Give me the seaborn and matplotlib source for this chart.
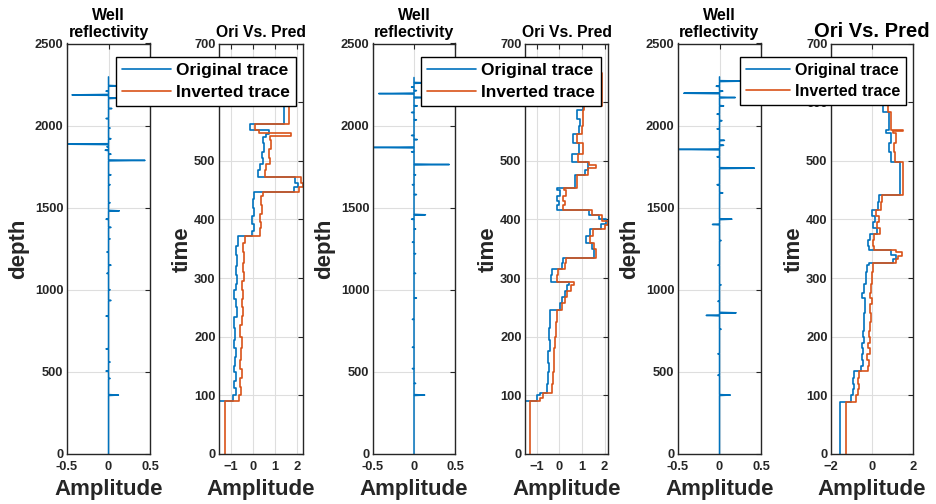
import matplotlib
matplotlib.use("Agg")
import matplotlib.pyplot as plt
import seaborn as sns
import pandas as pd

# ---------------- data ----------------
# Well reflectivity spikes (depth, amplitude) for the three wells
well1_depth = [2242, 2210, 2187, 2167, 2104, 2043, 1985, 1920, 1887, 1871, 1850, 1826, 1788, 1700, 1640,
               1530, 1481, 1430, 1380, 1310, 1230, 1150, 1100, 1000, 935, 840, 640, 560, 505, 460, 359]
well1_amp = [0.12, -0.03, -0.44, 0.11, 0.04, -0.03, 0.02, 0.03, -0.55, -0.02, -0.04, 0.03, 0.44, 0.03, 0.02,
             0.02, 0.13, -0.03, 0.03, 0.02, -0.02, 0.03, -0.02, 0.02, 0.03, -0.03, -0.03, 0.02, -0.03, 0.02, 0.12]
well2_depth = [2260, 2235, 2213, 2195, 2171, 2120, 2080, 2035, 1940, 1915, 1867, 1840, 1763, 1700, 1640,
               1580, 1457, 1430, 1370, 1290, 1220, 1100, 950, 820, 650, 520, 430, 359]
well2_amp = [0.20, -0.03, 0.03, -0.43, 0.20, 0.04, -0.03, 0.03, -0.03, 0.04, -0.55, -0.03, 0.43, 0.02, -0.02,
             0.03, 0.14, -0.03, 0.02, -0.02, 0.02, 0.02, 0.03, -0.02, -0.02, -0.02, 0.02, 0.13]
well3_depth = [2271, 2240, 2210, 2197, 2171, 2120, 2070, 2030, 1980, 1910, 1880, 1855, 1810, 1741, 1640,
               1590, 1430, 1398, 1300, 1150, 1030, 930, 860, 844, 760, 610, 480, 359]
well3_amp = [0.30, -0.04, 0.04, -0.43, 0.19, 0.05, -0.03, 0.03, -0.03, 0.06, 0.05, -0.52, -0.03, 0.42, -0.03,
             0.04, 0.15, -0.085, 0.02, -0.02, 0.02, -0.02, 0.20, -0.16, 0.02, -0.02, -0.02, 0.13]
well_top = [2297, 2293, 2297]

# Original / inverted traces: value starting at each break time (last entry = end of trace)
ori1_t = [0, 90, 100, 112, 125, 140, 150, 165, 180, 195, 215, 234, 250, 265, 280, 290, 305, 320, 340, 355,
          371, 380, 392, 405, 420, 435, 447, 455, 462, 473, 485, 495, 505, 515, 530, 540, 545, 552, 563, 650]
ori1_v = [-1.55, -0.92, -0.80, -0.86, -0.80, -0.88, -0.84, -0.80, -0.86, -0.82, -0.85, -0.72, -0.78, -0.85,
          -0.80, -0.75, -0.78, -0.72, -0.78, -0.70, -0.05, 0.05, -0.05, 0.02, -0.02, 0.05, 1.85, 2.05, 1.90,
          0.20, 0.30, 0.45, 0.40, 0.50, 0.45, 0.60, 0.70, -0.15, 1.40, 1.40]
inv1_t = [0, 90, 100, 115, 130, 145, 160, 180, 200, 220, 235, 250, 265, 280, 295, 310, 325, 345, 360,
          371, 385, 395, 410, 425, 440, 447, 455, 462, 473, 485, 495, 505, 520, 535, 542, 548, 552, 563, 650]
inv1_v = [-1.27, -0.65, -0.55, -0.60, -0.52, -0.60, -0.55, -0.52, -0.58, -0.50, -0.45, -0.52, -0.45, -0.50,
          -0.42, -0.45, -0.40, -0.45, -0.38, 0.30, 0.35, 0.30, 0.38, 0.35, 0.45, 2.10, 2.26, 2.15, 0.55, 0.60,
          0.75, 0.70, 0.80, 0.75, 1.70, 0.25, 0.10, 1.62, 1.62]

ori2_t = [0, 90, 100, 104, 120, 140, 155, 175, 195, 215, 230, 245, 258, 268, 278, 288, 294, 305, 316, 325,
          335, 350, 360, 372, 383, 392, 400, 408, 416, 425, 432, 440, 450, 453, 475, 485, 498, 512, 530, 545,
          560, 572, 586, 594, 650]
ori2_v = [-1.51, -1.00, -0.85, -0.55, -0.50, -0.45, -0.48, -0.42, -0.45, -0.40, -0.42, 0.02, 0.10, 0.25,
          0.35, 0.45, -0.35, -0.30, 0.10, 0.15, 1.55, 1.45, 1.20, 1.35, 1.85, 2.05, 1.75, 1.30, -0.10, 0.00,
          -0.12, 0.05, -0.08, 0.70, 1.15, 1.25, 0.55, 0.85, 0.60, 0.85, 0.90, 0.78, 1.05, 1.75, 1.75]
inv2_t = [0, 90, 95, 104, 120, 140, 160, 180, 200, 225, 245, 258, 268, 278, 288, 294, 305, 316, 325, 335,
          350, 360, 372, 383, 390, 398, 408, 416, 425, 432, 440, 450, 453, 475, 487, 492, 498, 512, 530, 545,
          560, 572, 586, 594, 650]
inv2_v = [-1.27, -0.85, -0.70, -0.34, -0.28, -0.22, -0.25, -0.18, -0.15, -0.12, 0.10, 0.25, 0.33, 0.50,
          0.65, -0.12, -0.05, 0.25, 0.30, 1.60, 1.55, 1.35, 1.50, 2.00, 2.15, 1.90, 1.45, 0.17, 0.25, 0.15,
          0.30, 0.20, 0.80, 1.25, 1.60, 1.30, 0.83, 1.05, 0.77, 1.00, 1.06, 1.06, 1.10, 1.90, 1.90]

ori3_t = [0, 89, 100, 110, 120, 130, 141, 150, 160, 170, 180, 190, 200, 210, 225, 240, 255, 266, 275, 290,
          310, 322, 325, 332, 340, 348, 355, 365, 376, 385, 395, 405, 416, 430, 441, 498, 515, 530, 547, 552,
          584, 650]
ori3_v = [-1.58, -1.02, -0.95, -0.88, -0.95, -0.90, -0.53, -0.45, -0.50, -0.42, -0.48, -0.40, -0.45, -0.37,
          -0.40, -0.32, -0.35, -0.50, -0.40, -0.30, -0.26, -0.13, 1.00, 1.15, 0.95, -0.13, -0.18, -0.10, 0.22,
          0.05, 0.15, 0.00, 0.27, 0.35, 1.37, 0.92, 0.85, 0.95, 0.68, 0.85, 0.52, 0.52]
inv3_t = [0, 89, 100, 110, 120, 130, 141, 150, 160, 170, 180, 190, 200, 210, 225, 240, 255, 266, 275, 290,
          310, 322, 325, 332, 338, 344, 348, 355, 365, 376, 385, 395, 405, 416, 430, 441, 498, 515, 530, 547,
          550, 553, 584, 650]
inv3_v = [-1.26, -0.77, -0.68, -0.62, -0.70, -0.65, -0.20, -0.15, -0.22, -0.12, -0.18, -0.10, -0.15, -0.10,
          -0.05, -0.08, 0.00, -0.12, -0.05, 0.00, 0.03, 0.05, 1.16, 1.25, 1.48, 1.15, 0.10, 0.05, 0.12, 0.40,
          0.25, 0.35, 0.20, 0.45, 0.50, 1.53, 1.13, 1.05, 1.15, 1.00, 1.50, 0.95, 0.76, 0.76]

well_title = "Well\nreflectivity"
pred_title = "Ori Vs. Pred"
labels = ["Original trace", "Inverted trace"]
well_xticks = [-0.5, 0, 0.5]
well_xticklabels = ["-0.5", "0", "0.5"]
well_yticks = [0, 500, 1000, 1500, 2000, 2500]
time_yticks = [0, 100, 200, 300, 400, 500, 600, 700]
pred_xticks = [[-1, 0, 1, 2], [-1, 0, 1, 2], [-2, 0, 2]]

# ---------------- style ----------------
sns.set_theme(style="white")
plt.rcParams["font.family"] = ["Liberation Sans", "DejaVu Sans"]
plt.rcParams["font.weight"] = "bold"
BLUE = "#0072BD"
ORANGE = "#D95319"
DARK = "#262626"
GRID = "#dedede"

W, H = 936, 504
fig = plt.figure(figsize=(W / 100, H / 100), dpi=100)
fig.patch.set_facecolor("white")


def px_axes(l, r, t=43.5, b=454):
    return fig.add_axes([l / W, (H - b) / H, (r - l) / W, (b - t) / H])


def style_axes(ax):
    for s in ax.spines.values():
        s.set_color(DARK)
        s.set_linewidth(1.0)
    ax.tick_params(direction="in", length=3.5, width=0.8, colors=DARK, labelsize=9.3,
                   top=True, right=True)
    ax.tick_params(axis="x", pad=5)
    ax.tick_params(axis="y", pad=2.5)
    for lab in ax.get_xticklabels() + ax.get_yticklabels():
        lab.set_fontweight("bold")
    ax.grid(True, color=GRID, linewidth=0.8)
    ax.set_axisbelow(True)


def well_frame(depths, amps, top):
    rows = [(0.0, 0.0)]
    for d, a in sorted(zip(depths, amps)):
        rows += [(0.0, d - 3), (a, d), (0.0, d + 3)]
    rows.append((0.0, top))
    return pd.DataFrame(rows, columns=["amp", "depth"])


wells = [(well1_depth, well1_amp), (well2_depth, well2_amp), (well3_depth, well3_amp)]
traces = [(ori1_t, ori1_v, inv1_t, inv1_v), (ori2_t, ori2_v, inv2_t, inv2_v), (ori3_t, ori3_v, inv3_t, inv3_v)]
well_px = [(67, 150), (373, 455), (678, 761)]
pred_px = [(219, 303), (525, 608), (831, 913)]

for i in range(3):
    # ---- well reflectivity ----
    ax = px_axes(*well_px[i])
    df = well_frame(wells[i][0], wells[i][1], well_top[i])
    sns.lineplot(data=df, x="amp", y="depth", sort=False, estimator=None, color=BLUE,
                 linewidth=1.1, ax=ax)
    ax.set_xlim(-0.5, 0.5)
    ax.set_ylim(0, 2500)
    ax.set_xticks(well_xticks)
    ax.set_xticklabels(well_xticklabels)
    ax.set_yticks(well_yticks)
    ax.set_xlabel("Amplitude", fontsize=16, fontweight="bold", color=DARK, labelpad=4.5)
    ax.set_ylabel("depth", fontsize=16, fontweight="bold", color=DARK, labelpad=4)
    ax.set_title(well_title, fontsize=11.5, fontweight="bold", color="black", pad=5, linespacing=1.1)
    style_axes(ax)

    # ---- original vs predicted ----
    ax2 = px_axes(*pred_px[i])
    ot, ov, it, iv = traces[i]
    sns.lineplot(x=ov, y=ot, sort=False, estimator=None, color=BLUE, linewidth=1.2,
                 drawstyle="steps-pre", label=labels[0], ax=ax2)
    sns.lineplot(x=iv, y=it, sort=False, estimator=None, color=ORANGE, linewidth=1.2,
                 drawstyle="steps-pre", label=labels[1], ax=ax2)
    ax2.set_ylim(0, 700)
    if i < 2:
        ax2.set_xlim(min(min(ov), min(iv)), max(max(ov), max(iv)))
    else:
        ax2.set_xlim(-2, 2)
    ax2.set_xticks(pred_xticks[i])
    ax2.set_yticks(time_yticks)
    ax2.set_xlabel("Amplitude", fontsize=16, fontweight="bold", color=DARK, labelpad=4.5)
    ax2.set_ylabel("time", fontsize=16, fontweight="bold", color=DARK, labelpad=1)
    ax2.set_title(pred_title, fontsize=11.3 if i < 2 else 14.5, fontweight="bold", color="black",
                  pad=5)
    style_axes(ax2)
    leg = ax2.legend(loc="upper right", bbox_to_anchor=(0.915, 0.967), borderaxespad=0,
                     fontsize=12.5 if i < 2 else 11.5, frameon=True, fancybox=False,
                     edgecolor="black", framealpha=1, handlelength=2.8, handletextpad=0.3,
                     labelspacing=0.4, borderpad=0.35)
    for txt in leg.get_texts():
        txt.set_fontweight("bold")
        txt.set_color("black")
    leg.get_frame().set_linewidth(1.0)

fig.savefig("out.png", dpi=100, facecolor="white")
